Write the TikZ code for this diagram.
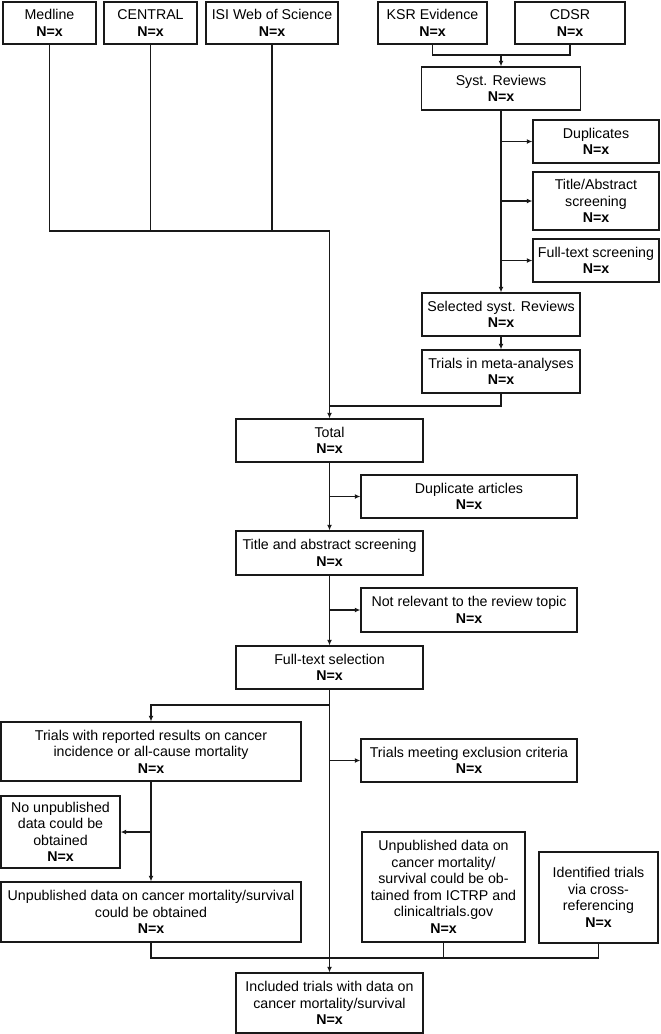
\documentclass[tikz,border=0pt]{standalone}
\usepackage{fontspec}
\setmainfont{Liberation Sans}
\usetikzlibrary{arrows.meta}
\begin{document}
\begin{tikzpicture}[x=1pt,y=-1pt,
 box/.style={draw=black!90, line width=1.4pt, inner sep=0pt, align=center, font=\fontsize{14.2}{16.5}\selectfont},
 conn/.style={draw=black!90, line width=1.8pt},
 arr/.style={conn, -{Latex[length=5.5pt,width=5pt]}}]
\fill[white] (0,0) rectangle (661,1034);
\useasboundingbox (0,0) rectangle (661,1034);
% top sources
\node[box, minimum width=93pt, minimum height=42pt] (medline) at (49.5,23) {Medline\\\textbf{N=x}};
\node[box, minimum width=93pt, minimum height=42pt] (central) at (150.5,23) {CENTRAL\\\textbf{N=x}};
\node[box, minimum width=132pt, minimum height=42pt] (isi) at (272,23) {ISI Web of Science\\\textbf{N=x}};
\node[box, minimum width=109pt, minimum height=42pt] (ksr) at (432.5,23) {KSR Evidence\\\textbf{N=x}};
\node[box, minimum width=110pt, minimum height=42pt] (cdsr) at (570,23) {CDSR\\\textbf{N=x}};
% systematic reviews branch
\node[box, minimum width=159pt, minimum height=43pt] (syst) at (501,88.5) {Syst. Reviews\\\textbf{N=x}};
\node[box, minimum width=126pt, minimum height=43pt] (dup) at (596,141.5) {Duplicates\\\textbf{N=x}};
\node[box, minimum width=126pt, minimum height=58pt] (tas) at (596,201) {Title/Abstract\\screening\\\textbf{N=x}};
\node[box, minimum width=126pt, minimum height=43pt] (fts) at (596,260.5) {Full-text screening\\\textbf{N=x}};
\node[box, minimum width=158pt, minimum height=43pt] (sel) at (501,314.5) {Selected syst. Reviews\\\textbf{N=x}};
\node[box, minimum width=158pt, minimum height=43pt] (meta) at (501,371.5) {Trials in meta-analyses\\\textbf{N=x}};
% main chain
\node[box, minimum width=187pt, minimum height=43pt] (total) at (329.5,440.5) {Total\\\textbf{N=x}};
\node[box, minimum width=216pt, minimum height=43pt] (dupart) at (469,496.5) {Duplicate articles\\\textbf{N=x}};
\node[box, minimum width=187pt, minimum height=44pt] (tabs) at (329.5,553) {Title and abstract screening\\\textbf{N=x}};
\node[box, minimum width=216pt, minimum height=44pt] (notrel) at (469,610) {Not relevant to the review topic\\\textbf{N=x}};
\node[box, minimum width=187pt, minimum height=43pt] (fulltext) at (329.5,667.5) {Full-text selection\\\textbf{N=x}};
\node[box, minimum width=300pt, minimum height=59pt] (trials) at (151,751.5) {Trials with reported results on cancer\\incidence or all-cause mortality\\\textbf{N=x}};
\node[box, minimum width=216pt, minimum height=43pt] (excl) at (469,760.5) {Trials meeting exclusion criteria\\\textbf{N=x}};
\node[box, minimum width=119pt, minimum height=72pt] (nounp) at (60.5,832) {No unpublished\\data could be\\obtained\\\textbf{N=x}};
\node[box, minimum width=300pt, minimum height=60pt] (unp) at (151,912) {Unpublished data on cancer mortality/survival\\could be obtained\\\textbf{N=x}};
\node[box, minimum width=163pt, minimum height=110pt] (ictrp) at (443.5,887) {Unpublished data on\\cancer mortality/\\survival could be ob-\\tained from ICTRP and\\clinicaltrials.gov\\\textbf{N=x}};
\node[box, minimum width=119pt, minimum height=91pt] (ident) at (598.5,897.5) {Identified trials\\via cross-\\referencing\\\textbf{N=x}};
\node[box, minimum width=187pt, minimum height=60pt] (final) at (329.5,1003) {Included trials with data on\\cancer mortality/survival\\\textbf{N=x}};
% coordinates
\coordinate (b1) at (329.5,231);
\coordinate (j1) at (329.5,406);
\coordinate (k1) at (501,55);
\coordinate (f1) at (329.5,705);
\coordinate (b2) at (151,958);
% connectors: databases
\draw[conn] (medline.south) |- (b1);
\draw[conn] (central.south) -- (central.south |- b1);
\draw[conn] (isi.south) -- (isi.south |- b1);
\draw[arr] (b1) -- (total.north);
\draw[conn] (meta.south) |- (j1);
% systematic reviews
\draw[conn] (ksr.south) |- (k1);
\draw[conn] (cdsr.south) |- (k1);
\draw[arr] (k1) -- (syst.north);
\draw[arr] (syst.south) -- (sel.north);
\draw[arr] (syst.south |- dup.west) -- (dup.west);
\draw[arr] (syst.south |- tas.west) -- (tas.west);
\draw[arr] (syst.south |- fts.west) -- (fts.west);
\draw[arr] (sel.south) -- (meta.north);
% main chain
\draw[arr] (total.south) -- (tabs.north);
\draw[arr] (total.south |- dupart.west) -- (dupart.west);
\draw[arr] (tabs.south) -- (fulltext.north);
\draw[arr] (tabs.south |- notrel.west) -- (notrel.west);
\draw[arr] (fulltext.south) -- (final.north);
\draw[arr] (f1) -| (trials.north);
\draw[arr] (fulltext.south |- excl.west) -- (excl.west);
\draw[arr] (trials.south) -- (unp.north);
\draw[arr] (trials.south |- nounp.east) -- (nounp.east);
% bottom bus
\draw[conn] (unp.south) |- (ident.south |- b2) -- (ident.south);
\draw[conn] (ictrp.south) -- (ictrp.south |- b2);
\end{tikzpicture}
\end{document}
